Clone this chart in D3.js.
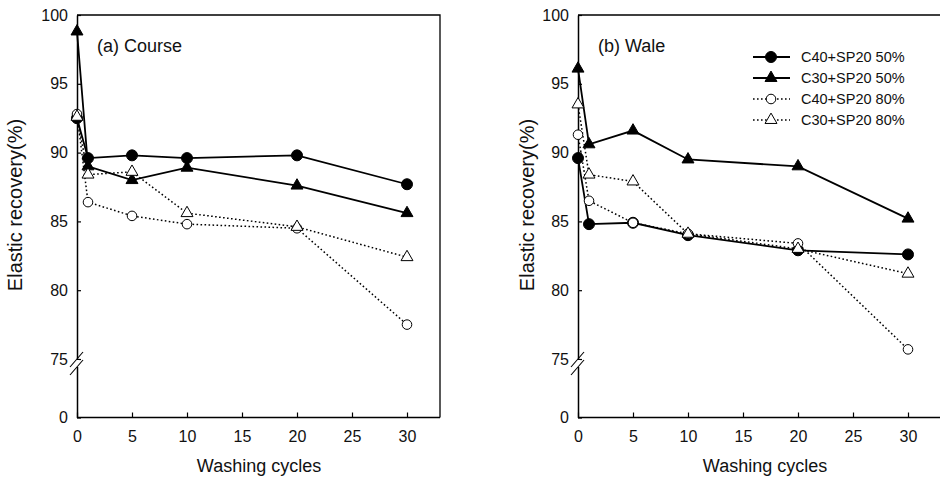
<!DOCTYPE html>
<html>
<head>
<meta charset="utf-8">
<script src="https://cdn.jsdelivr.net/npm/d3@7"></script>
<style>
  html, body { margin: 0; padding: 0; background: #fff; }
  svg { display: block; font-family: "Liberation Sans", Arial, sans-serif; }
</style>
</head>
<body>
<svg id="chart" width="940" height="477"></svg>
<script>
// ---- data ----
const cycles = [0, 1, 5, 10, 20, 30];
const seriesNames = ["C40+SP20 50%", "C30+SP20 50%", "C40+SP20 80%", "C30+SP20 80%"];
const courseC40_50 = [92.5, 89.6, 89.8, 89.6, 89.8, 87.7];
const courseC30_50 = [98.8, 89.0, 88.0, 88.9, 87.6, 85.6];
const courseC40_80 = [92.8, 86.4, 85.4, 84.8, 84.5, 77.5];
const courseC30_80 = [92.6, 88.4, 88.6, 85.6, 84.6, 82.4];
const waleC40_50 = [89.6, 84.8, 84.9, 84.0, 82.9, 82.6];
const waleC30_50 = [96.1, 90.6, 91.6, 89.5, 89.0, 85.2];
const waleC40_80 = [91.3, 86.5, 84.9, 84.1, 83.4, 75.7];
const waleC30_80 = [93.5, 88.4, 87.9, 84.1, 83.0, 81.2];
const xTicks = [0, 5, 10, 15, 20, 25, 30];
const yTicks = [0, 75, 80, 85, 90, 95, 100];
const panelTitles = ["(a) Course", "(b) Wale"];
const xTitle = "Washing cycles";
const yTitle = "Elastic recovery(%)";

(function () {
// ---- styles ----
const styles = [
  { symbol: d3.symbolCircle, size: 95, fill: "#000", dash: null },
  { symbol: d3.symbolTriangle, size: 62, fill: "#000", dash: null },
  { symbol: d3.symbolCircle, size: 72, fill: "#fff", dash: "1.6,2.4" },
  { symbol: d3.symbolTriangle, size: 62, fill: "#fff", dash: "1.6,2.4" }
];

const svg = d3.select("#chart");
const plotTop = 15, plotBottom = 417.5;

const panels = [
  { x0: 77, x1: 440, title: panelTitles[0], yTitleX: 15, xTitleX: 259,
    data: [courseC40_50, courseC30_50, courseC40_80, courseC30_80], legend: false },
  { x0: 578, x1: 941, title: panelTitles[1], yTitleX: 527, xTitleX: 765,
    data: [waleC40_50, waleC30_50, waleC40_80, waleC30_80], legend: true }
];

const y = d3.scaleLinear().domain([0, 75, 100]).range([plotBottom, 359, plotTop]);

panels.forEach(p => {
  const g = svg.append("g");
  const x = d3.scaleLinear().domain([0, 33]).range([p.x0, p.x1]);

  // frame: top and right
  g.append("path")
    .attr("d", `M${p.x0},${plotTop}H${p.x1}V${plotBottom}`)
    .attr("fill", "none").attr("stroke", "#000").attr("stroke-width", 1.3);

  // x axis
  const xAxis = d3.axisBottom(x).tickValues(xTicks).tickSizeInner(-5).tickSizeOuter(0).tickPadding(13);
  const xg = g.append("g").attr("transform", `translate(0,${plotBottom})`).call(xAxis);
  xg.select(".domain").attr("d", `M${p.x0},0H${p.x1}`).attr("stroke-width", 1.5);
  xg.selectAll(".tick line").attr("stroke-width", 1.2);
  xg.selectAll("text").attr("font-size", 16).attr("font-family", "Liberation Sans, Arial, sans-serif").attr("fill", "#111");

  // y axis
  const yAxis = d3.axisLeft(y).tickValues(yTicks).tickSizeInner(-4).tickSizeOuter(0).tickPadding(9);
  const yg = g.append("g").attr("transform", `translate(${p.x0},0)`).call(yAxis);
  yg.select(".domain").attr("stroke-width", 1.5);
  yg.selectAll(".tick line").attr("stroke-width", 1.2);
  yg.selectAll("text").attr("font-size", 16).attr("font-family", "Liberation Sans, Arial, sans-serif").attr("fill", "#111");

  // axis break
  const yb = y(75);
  g.append("rect").attr("x", p.x0 - 2).attr("y", yb + 1).attr("width", 4).attr("height", 7).attr("fill", "#fff");
  [0, 8].forEach(off => {
    g.append("line")
      .attr("x1", p.x0 - 7).attr("y1", yb + off + 8)
      .attr("x2", p.x0 + 6).attr("y2", yb + off - 7)
      .attr("stroke", "#000").attr("stroke-width", 1.1);
  });

  // titles
  g.append("text").attr("x", p.x0 + 20).attr("y", 52).attr("font-size", 18).attr("fill", "#111").text(p.title);
  g.append("text").attr("x", p.xTitleX).attr("y", 472)
    .attr("text-anchor", "middle").attr("font-size", 18).attr("fill", "#111").text(xTitle);
  g.append("text")
    .attr("transform", `translate(${p.yTitleX + 7},205) rotate(-90)`)
    .attr("text-anchor", "middle").attr("font-size", 20).attr("fill", "#111").text(yTitle);

  // lines
  const line = d3.line().x((d, i) => x(cycles[i])).y(d => y(d));
  p.data.forEach((s, k) => {
    g.append("path").datum(s).attr("d", line)
      .attr("fill", "none").attr("stroke", "#000")
      .attr("stroke-width", styles[k].dash ? 1.5 : 1.8)
      .attr("stroke-dasharray", styles[k].dash);
  });
  // markers
  p.data.forEach((s, k) => {
    const st = styles[k];
    g.selectAll(null).data(s).join("path")
      .attr("transform", (d, i) => `translate(${x(cycles[i])},${y(d)})`)
      .attr("d", d3.symbol().type(st.symbol).size(st.size))
      .attr("fill", st.fill).attr("stroke", "#000").attr("stroke-width", 1);
  });

  // legend
  if (p.legend) {
    const lg = g.append("g");
    const rowsY = [57, 78, 99, 120];
    seriesNames.forEach((name, k) => {
      const st = styles[k];
      lg.append("line").attr("x1", 753).attr("x2", 790).attr("y1", rowsY[k]).attr("y2", rowsY[k])
        .attr("stroke", "#000").attr("stroke-width", st.dash ? 1.4 : 1.8).attr("stroke-dasharray", st.dash);
      lg.append("path").attr("transform", `translate(771,${rowsY[k]})`)
        .attr("d", d3.symbol().type(st.symbol).size(st.size))
        .attr("fill", st.fill).attr("stroke", "#000").attr("stroke-width", 1);
      lg.append("text").attr("x", 801).attr("y", rowsY[k] + 5).attr("font-size", 14.5).attr("fill", "#111").text(name);
    });
  }
});
})();
</script>
</body>
</html>
